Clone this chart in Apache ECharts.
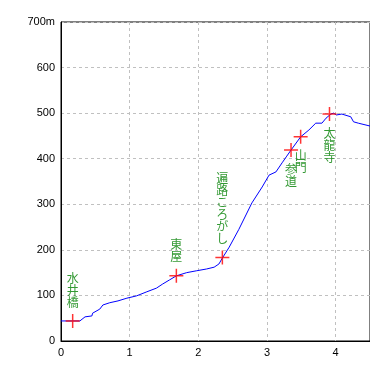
<!DOCTYPE html>
<html>
<head>
<meta charset="utf-8">
<script src="https://cdn.jsdelivr.net/npm/echarts@6/dist/echarts.min.js"></script>
<style>
html,body{margin:0;padding:0;background:#fff;}
#c{width:370px;height:371px;}
</style>
</head>
<body>
<div id="c"></div>
<script>
// distance (km) and elevation (m) of the profile
const distKm = [0, 0.275, 0.30, 0.35, 0.45, 0.46, 0.565, 0.61, 0.71, 0.83, 0.96, 1.10, 1.25, 1.39, 1.48, 1.58, 1.68, 1.83, 1.97, 2.12, 2.23, 2.30, 2.35, 2.45, 2.59, 2.78, 2.93, 3.03, 3.13, 3.22, 3.28, 3.35, 3.49, 3.61, 3.71, 3.80, 3.86, 3.93, 3.97, 4.01, 4.09, 4.22, 4.26, 4.33, 4.52];
const elevM  = [44, 44, 48, 53, 55, 61, 70, 79, 84, 88, 94, 99, 108, 116, 125, 134, 143, 150, 154, 158, 162, 169, 182, 206, 245, 303, 338, 364, 371, 391, 404, 419, 448, 463, 478, 478, 489, 498, 500, 496, 498, 492, 481, 478, 471];
// landmarks
const spotNames = ['水井橋', '東屋', '遍路ころがし', '参道', '山門', '太龍寺'];
const spotKm    = [0.17, 1.68, 2.35, 3.35, 3.49, 3.91];
const spotElev  = [44, 143, 183, 419, 448, 498];
// axis ticks
const yTicks = [0, 100, 200, 300, 400, 500, 600, 700];
const xTicks = [0, 1, 2, 3, 4];

// style: where each landmark label sits relative to its marker
const labelSide = {'水井橋':'top','東屋':'top','遍路ころがし':'top','参道':'bottom','山門':'bottom','太龍寺':'bottom'};

const chart = echarts.init(document.getElementById('c'), null, {renderer:'canvas'});
const cross = 'path://M0,6.25L14,6.25L14,7.75L0,7.75Z M6.25,0L7.75,0L7.75,14L6.25,14Z';
const tickFont = {fontFamily:'Liberation Sans, Arial, sans-serif', fontSize:11, color:'#000'};

chart.setOption({
  animation:false,
  backgroundColor:'#fff',
  grid:{left:61, right:-2, top:22, bottom:30, show:true, borderColor:'#000', borderWidth:1, backgroundColor:'transparent'},
  xAxis:{
    type:'value', min:xTicks[0], max:4.5, interval:1,
    axisLine:{show:true, lineStyle:{color:'#000', width:1}},
    axisTick:{show:false},
    axisLabel:Object.assign({margin:6, showMaxLabel:false, formatter:v => xTicks.includes(v) ? String(v) : ''}, tickFont),
    splitLine:{show:true, lineStyle:{color:'#c0c0c0', type:[3,3], width:1}}
  },
  yAxis:{
    type:'value', min:yTicks[0], max:yTicks[yTicks.length-1], interval:100,
    axisLine:{show:true, lineStyle:{color:'#000', width:1}},
    axisTick:{show:false},
    axisLabel:Object.assign({margin:6, formatter:v => v === 700 ? '700m' : String(v)}, tickFont),
    splitLine:{show:true, lineStyle:{color:'#c0c0c0', type:[3,3], width:1}}
  },
  series:[
    {
      type:'line',
      data:distKm.map((d,i)=>[d, elevM[i]]),
      showSymbol:false,
      lineStyle:{color:'#0000ff', width:1},
      clip:true,
      z:2
    },
    {
      type:'scatter',
      symbol:cross,
      symbolSize:14,
      itemStyle:{color:'#ff0000'},
      z:3,
      data:spotNames.map((n,i)=>({
        name:n,
        value:[spotKm[i], spotElev[i]],
        label:{
          show:true,
          position:labelSide[n],
          distance:6,
          formatter:n.split('').join('\n'),
          color:'#008000',
          fontFamily:'Noto Sans CJK JP',
          fontSize:12,
          lineHeight:12
        }
      }))
    }
  ]
});
</script>
</body>
</html>
